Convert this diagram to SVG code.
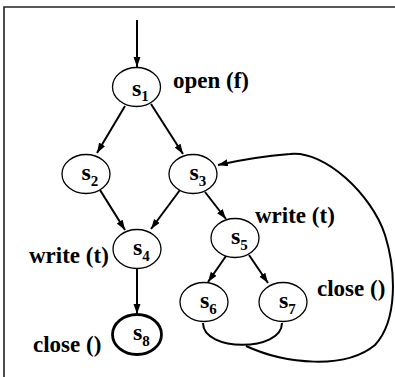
<svg xmlns="http://www.w3.org/2000/svg" width="395" height="377" viewBox="0 0 395 377">
<defs>
<style>
.frame{fill:none;stroke:#222;stroke-width:1.6}
.node{fill:#fff;stroke:#000;stroke-width:1.3}
.final{fill:#fff;stroke:#000;stroke-width:2.8}
.edge{fill:none;stroke:#000;stroke-width:2}
.lbl{font-family:"Liberation Serif","Times New Roman",serif;font-weight:bold;font-size:23px;fill:#000}
.nm{font-family:"Liberation Serif","Times New Roman",serif;font-weight:bold;font-size:24px;fill:#000}
.sub{font-size:15px}
</style>
<marker id="arr" markerUnits="userSpaceOnUse" markerWidth="10" markerHeight="8" refX="10" refY="3.5" orient="auto">
<path d="M0,0 L10,3.5 L0,7 z" fill="#000"/>
</marker>
</defs>
<rect width="395" height="377" fill="#fff"/>
<path class="frame" d="M4,377 L4,7 L395,7"/>
<g id="connectors">
<line class="edge" x1="137" y1="20" x2="137" y2="67" marker-end="url(#arr)"/>
<line class="edge" x1="125" y1="106" x2="97" y2="153" marker-end="url(#arr)"/>
<line class="edge" x1="151" y1="104" x2="183" y2="154" marker-end="url(#arr)"/>
<line class="edge" x1="100" y1="190" x2="125" y2="230" marker-end="url(#arr)"/>
<line class="edge" x1="180" y1="190" x2="151" y2="229" marker-end="url(#arr)"/>
<line class="edge" x1="137" y1="269" x2="137" y2="314" marker-end="url(#arr)"/>
<line class="edge" x1="205" y1="192" x2="226" y2="219" marker-end="url(#arr)"/>
<line class="edge" x1="226" y1="256" x2="208" y2="282" marker-end="url(#arr)"/>
<line class="edge" x1="249" y1="255" x2="268" y2="283" marker-end="url(#arr)"/>
<path class="edge" d="M203,323 C203,352 282,352 282,323"/>
<path class="edge" d="M246,346 C285,364 345,370 375,345 C398,320 396,270 385,235 C372,195 325,150 290,154 C265,156 240,160 218,165" marker-end="url(#arr)"/>
</g>
<g id="s1">
<ellipse class="node" cx="136.5" cy="87" rx="24" ry="19.5"/>
<text class="nm" x="132" y="96">s<tspan class="sub" dy="5">1</tspan></text>
</g>
<g id="s2">
<ellipse class="node" cx="86" cy="174" rx="24" ry="19.5"/>
<text class="nm" x="81.5" y="180">s<tspan class="sub" dy="5.5">2</tspan></text>
</g>
<g id="s3">
<ellipse class="node" cx="193" cy="174" rx="24" ry="19.5"/>
<text class="nm" x="189.5" y="180">s<tspan class="sub" dy="5.5">3</tspan></text>
</g>
<g id="s4">
<ellipse class="node" cx="137" cy="249" rx="24" ry="19.5"/>
<text class="nm" x="133" y="255">s<tspan class="sub" dy="5.5">4</tspan></text>
</g>
<g id="s5">
<ellipse class="node" cx="235" cy="238" rx="24" ry="19.5"/>
<text class="nm" x="231" y="244">s<tspan class="sub" dy="5.5">5</tspan></text>
</g>
<g id="s6">
<ellipse class="node" cx="204" cy="302" rx="24" ry="19.5"/>
<text class="nm" x="200" y="308">s<tspan class="sub" dy="5.5">6</tspan></text>
</g>
<g id="s7">
<ellipse class="node" cx="283" cy="302" rx="24" ry="19.5"/>
<text class="nm" x="279" y="308">s<tspan class="sub" dy="5.5">7</tspan></text>
</g>
<g id="s8">
<ellipse class="final" cx="137" cy="334.5" rx="24.5" ry="20"/>
<text class="nm" x="133" y="340">s<tspan class="sub" dy="5.5">8</tspan></text>
</g>
<g id="labels">
<text class="lbl" x="173" y="88">open (f)</text>
<text class="lbl" x="255" y="223">write (t)</text>
<text class="lbl" x="29" y="263">write (t)</text>
<text class="lbl" x="317" y="296">close ()</text>
<text class="lbl" x="33" y="352">close ()</text>
</g>
</svg>
